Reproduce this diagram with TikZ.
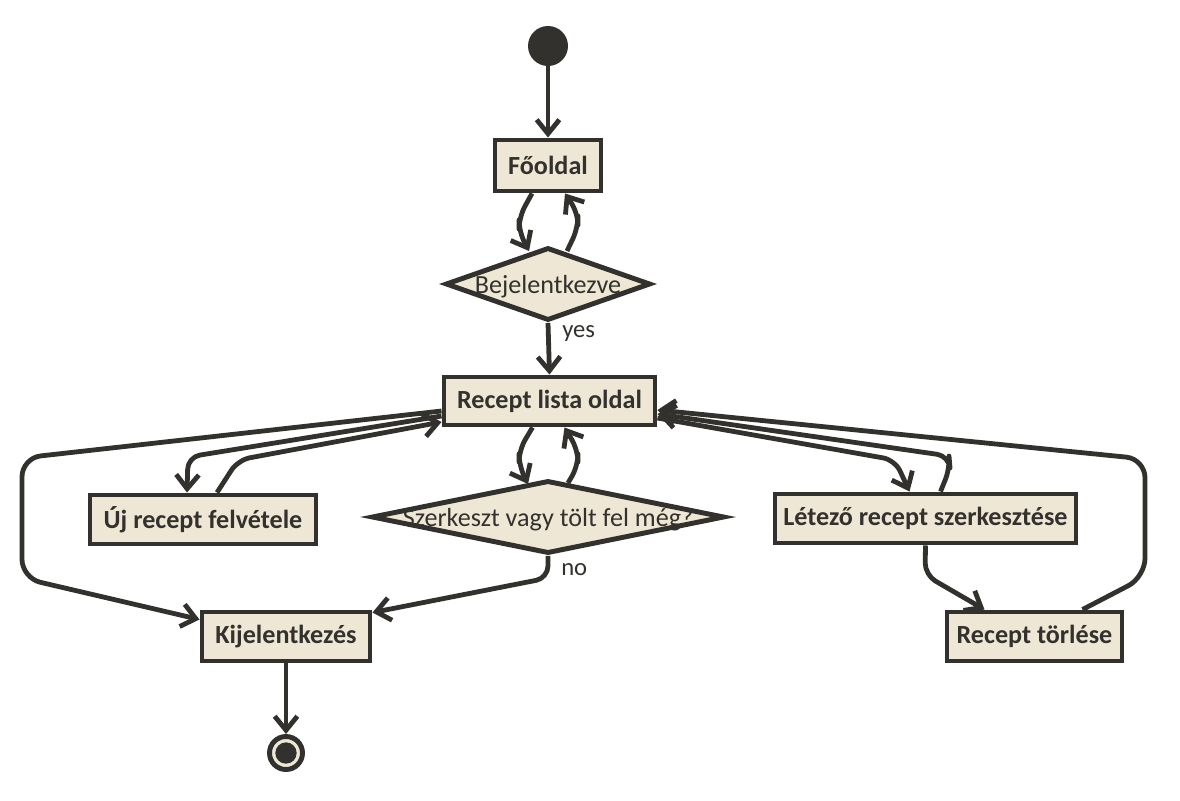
\documentclass[tikz,border=0pt]{standalone}
\usepackage{fontspec}
\setmainfont{Carlito}
\usetikzlibrary{arrows.meta,shapes.geometric,calc}
\definecolor{ink}{RGB}{51,49,45}
\definecolor{paper}{RGB}{238,231,213}
\tikzset{
  box/.style={draw=ink, fill=paper, line width=3.7pt, rectangle, inner sep=0pt, text=ink,
    font=\bfseries\fontsize{19.6}{22}\selectfont},
  dia/.style={draw=ink, fill=paper, line width=3.7pt, diamond, inner sep=0pt},
  dtext/.style={text=ink, font=\fontsize{19.6}{22}\selectfont, inner sep=0pt},
  lbl/.style={text=ink, font=\fontsize{18.5}{21}\selectfont, inner sep=0pt},
  conn/.style={draw=ink, line width=3.6pt, rounded corners=9pt, line join=round,
    -{Straight Barb[length=10.5pt,width=17pt,line width=3.6pt]}},
}
\begin{document}
\begin{tikzpicture}[x=0.75pt, y=-0.75pt]
\useasboundingbox (0,0) rectangle (1180,800);
% nodes
\node[circle, fill=ink, minimum size=30pt, inner sep=0pt] (start) at (548,46) {};
\node[box, minimum width=79.5pt, minimum height=38.25pt] (fo) at (548,165.5) {Főoldal};
\node[dia, minimum width=153.75pt, minimum height=54.75pt,
      label={[dtext, yshift=-2pt]center:Bejelentkezve}] (d1) at (548,284) {};
\node[box, minimum width=158.25pt, minimum height=36pt] (rl) at (549.5,401) {Recept lista oldal};
\node[dia, minimum width=264.75pt, minimum height=54.75pt,
      label={[dtext, yshift=-2pt]center:Szerkeszt vagy tölt fel még?}] (d2) at (548,517) {};
\node[box, minimum width=169.5pt, minimum height=36.75pt] (uj) at (203,519.5) {Új recept felvétele};
\node[box, minimum width=126pt, minimum height=36.75pt] (ki) at (286,636.5) {Kijelentkezés};
\node[box, minimum width=225.75pt, minimum height=36.75pt] (le) at (925.5,518.5) {Létező recept szerkesztése};
\node[box, minimum width=131.25pt, minimum height=36.75pt] (rt) at (1034.5,636.5) {Recept törlése};
\node[circle, draw=ink, fill=paper, line width=3.7pt, minimum size=24.75pt, inner sep=0pt,
      path picture={\fill[ink] (path picture bounding box.center) circle (8pt);}] (end) at (286,753) {};
\node[lbl, anchor=west] (yes) at (562,333) {yes};
\node[lbl, anchor=west] (no) at (561,570) {no};
% connectors
\draw[conn] (start) -- (fo.north);
\draw[conn] ($(fo.south)+(-16,0)$) -- (519,217) -- (519,232) -- (529,251);
\draw[conn] (567,251) -- (578,228) -- (578,213) -- ($(fo.south)+(17,0)$);
\draw[conn] (d1.south) -- (rl.north);
\draw[conn] ($(rl.south)+(-17,0)$) -- (519,450) -- (519,466) -- (528,484);
\draw[conn] (568,483) -- (578,466) -- (578,450) -- ($(rl.south)+(15,0)$);
\draw[conn] (d2.south) -- (548,578) -- ($(ki.north east)+(0,3)$);
\draw[conn] ($(rl.west)+(0,15)$) -- (188,457) -- ($(uj.north)+(-16,0)$);
\draw[conn] ($(uj.north)+(14,0)$) -- (238,460) -- ($(rl.west)+(0,21)$);
\draw[conn, rounded corners=14pt] ($(rl.west)+(0,10)$) -- (22,458) -- (22,578) -- ($(ki.west)+(0,-17)$);
\draw[conn] ($(rl.east)+(0,17)$) -- (895,460) -- ($(le.north)+(-16,0)$);
\draw[conn] ($(le.north)+(15,0)$) -- (950,468) -- (949,456) -- ($(rl.east)+(0,13)$);
\draw[conn] (le.south) -- (925,575) -- ($(rt.north)+(-50,0)$);
\draw[conn, rounded corners=14pt] ($(rt.north)+(48,0)$) -- (1145,577) -- (1145,459) -- ($(rl.east)+(0,9)$);
\draw[conn] (ki.south) -- (end.north);
\end{tikzpicture}
\end{document}
